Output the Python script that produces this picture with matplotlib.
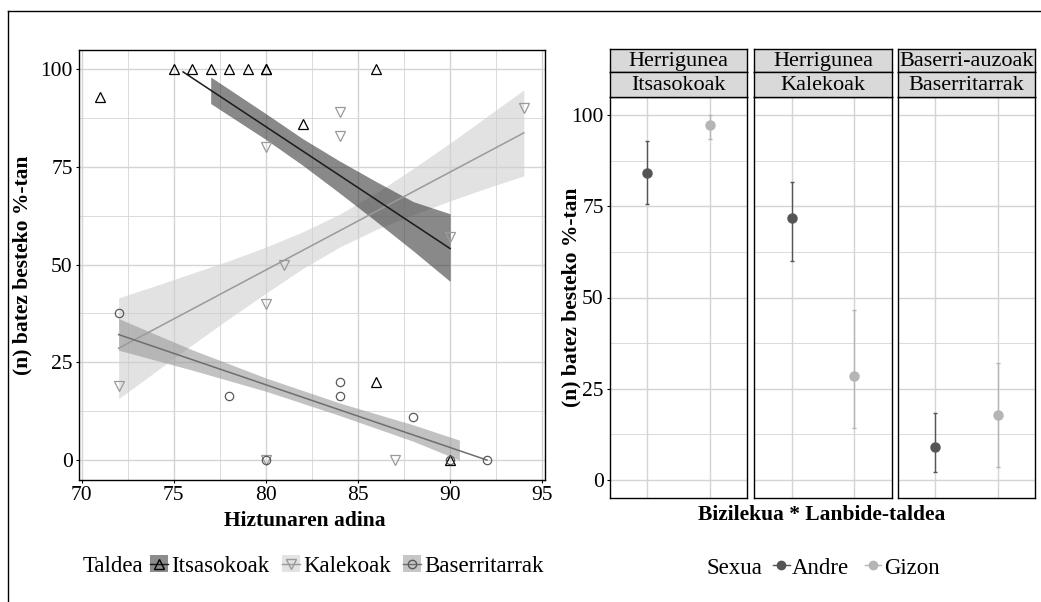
import matplotlib
matplotlib.use('Agg')
import matplotlib.pyplot as plt
from matplotlib.lines import Line2D
from matplotlib.patches import Patch
from matplotlib.legend_handler import HandlerTuple
from matplotlib.ticker import MultipleLocator

plt.rcParams['font.family'] = ['Liberation Serif', 'DejaVu Serif']
plt.rcParams['font.size'] = 15.5

W, H = 1041, 602

# left plot: answers per speaker age, by group
itsas_x = [71, 75, 76, 77, 78, 79, 80, 80, 82, 86, 86, 90]
itsas_y = [93, 100, 100, 100, 100, 100, 100, 100, 86, 100, 20, 0]
kale_x = [72, 80, 80, 80, 81, 84, 84, 87, 90, 94]
kale_y = [19, 80, 40, 0, 50, 89, 83, 0, 57, 90]
baser_x = [72, 78, 80, 84, 84, 88, 90, 92]
baser_y = [37.5, 16.5, 0, 20, 16.5, 11, 0, 0]

# fitted lines
itsas_fit_x = [75.5, 90]
itsas_fit_y = [99.3, 54.1]
kale_fit_x = [72, 94]
kale_fit_y = [28.6, 83.7]
baser_fit_x = [72, 92]
baser_fit_y = [32.1, 0]

# confidence bands
itsas_band_x = [77, 80, 82, 84, 86, 88, 90]
itsas_band_lo = [91.2, 82.0, 75.4, 68.3, 61.0, 53.5, 45.7]
itsas_band_hi = [98.0, 88.6, 82.2, 76.5, 71.2, 66.1, 63.0]
kale_band_x = [72, 74, 76, 78, 80, 82, 84, 86, 88, 90, 92, 94]
kale_band_lo = [15.7, 22.6, 29.5, 36.2, 42.7, 49.0, 54.5, 59.0, 62.8, 66.3, 69.6, 72.7]
kale_band_hi = [41.5, 44.6, 47.8, 51.0, 54.5, 58.4, 62.9, 68.4, 74.6, 81.1, 87.9, 94.7]
baser_band_x = [72, 76, 80, 84, 88, 90.5]
baser_band_lo = [28.1, 23.0, 17.6, 11.4, 4.8, 0.0]
baser_band_hi = [36.2, 28.2, 21.0, 14.6, 9.0, 5.1]

# right plot: mean and interval per residence * occupation, by sex
facet_top = ['Herrigunea', 'Herrigunea', 'Baserri-auzoak']
facet_bottom = ['Itsasokoak', 'Kalekoak', 'Baserritarrak']
sexua = ['Andre', 'Gizon']
andre_mean = [84.2, 71.7, 9.1]
andre_lo = [75.6, 60.0, 2.2]
andre_hi = [93.0, 81.6, 18.4]
gizon_mean = [97.3, 28.5, 17.7]
gizon_lo = [93.6, 14.1, 3.4]
gizon_hi = [100.0, 46.5, 32.0]

GRID = '#d4d4d4'
ylab = '(n) batez besteko %-tan'
LEG_FS = 16.5


def box(x0, y0, x1, y1):
    return [x0 / W, 1 - y1 / H, (x1 - x0) / W, (y1 - y0) / H]


def style_grid(ax):
    ax.grid(which='major', color=GRID, lw=1.0)
    ax.grid(which='minor', color=GRID, lw=0.6)
    ax.set_axisbelow(True)
    for s in ax.spines.values():
        s.set_color('black')
        s.set_linewidth(1.0)
    ax.tick_params(which='major', direction='out', length=2.5, width=0.8,
                   color='black', labelcolor='black', labelsize=15.5, pad=2)
    ax.tick_params(which='minor', length=0)


fig = plt.figure(figsize=(W / 100, H / 100), dpi=100)

# outer frame (top and left edges)
fig.add_artist(Line2D([8 / W, 8 / W], [0, 1 - 11 / H], transform=fig.transFigure, color='black', lw=1.0))
fig.add_artist(Line2D([8 / W, 1], [1 - 11 / H, 1 - 11 / H], transform=fig.transFigure, color='black', lw=1.0))

ax = fig.add_axes(box(79, 50, 545, 480))
style_grid(ax)
ax.fill_between(kale_band_x, kale_band_lo, kale_band_hi, color='#cfcfcf', alpha=0.6, lw=0)
ax.fill_between(baser_band_x, baser_band_lo, baser_band_hi, color='#9a9a9a', alpha=0.6, lw=0)
ax.fill_between(itsas_band_x, itsas_band_lo, itsas_band_hi, color='#3a3a3a', alpha=0.6, lw=0)
ax.plot(kale_fit_x, kale_fit_y, color='#9a9a9a', lw=1.1)
ax.plot(baser_fit_x, baser_fit_y, color='#6e6e6e', lw=1.1)
ax.plot(itsas_fit_x, itsas_fit_y, color='#1a1a1a', lw=1.1)
ax.plot(itsas_x, itsas_y, ls='none', marker='^', ms=7, mfc='none', mec='black', mew=0.9)
ax.plot(kale_x, kale_y, ls='none', marker='v', ms=7, mfc='none', mec='#9a9a9a', mew=0.9)
ax.plot(baser_x, baser_y, ls='none', marker='o', ms=6, mfc='none', mec='#5a5a5a', mew=0.9)
ax.set_xlim(69.85, 95.15)
ax.set_ylim(-5.1, 104.9)
ax.xaxis.set_major_locator(MultipleLocator(5))
ax.xaxis.set_minor_locator(MultipleLocator(2.5))
ax.yaxis.set_major_locator(MultipleLocator(25))
ax.yaxis.set_minor_locator(MultipleLocator(12.5))
ax.set_ylabel(ylab, fontweight='bold')
ax.yaxis.set_label_coords(-0.1, 0.5)
fig.text(305 / W, 1 - 521 / H, 'Hiztunaren adina', ha='center', va='center', fontweight='bold')

# left legend
fig.text(83 / W, 1 - 566 / H, 'Taldea', ha='left', va='center', fontsize=LEG_FS)
h_itsas = (Patch(fc='#8c8c8c', ec='none'),
           Line2D([], [], color='#1a1a1a', lw=1.0, marker='^', ms=7, mfc='none', mec='black'))
h_kale = (Patch(fc='#e3e3e3', ec='none'),
          Line2D([], [], color='#9a9a9a', lw=1.0, marker='v', ms=7, mfc='none', mec='#9a9a9a'))
h_baser = (Patch(fc='#c6c6c6', ec='none'),
           Line2D([], [], color='#6e6e6e', lw=1.0, marker='o', ms=6, mfc='none', mec='#5a5a5a'))
fig.legend([h_itsas, h_kale, h_baser], facet_bottom, loc='center left',
           bbox_to_anchor=(150 / W, 1 - 566 / H), ncol=3, frameon=False, fontsize=LEG_FS,
           handlelength=0.79, handleheight=0.72, handletextpad=0.13, columnspacing=0.55,
           borderpad=0, borderaxespad=0, handler_map={tuple: HandlerTuple(ndivide=1)})

# right facets
panels = [(610, 747), (754, 892), (898, 1035)]
xpos = [1, 2]
for i, (x0, x1) in enumerate(panels):
    pa = fig.add_axes(box(x0, 97, x1, 498))
    style_grid(pa)
    pa.set_xlim(0.4, 2.6)
    pa.set_ylim(-5, 105)
    pa.set_xticks(xpos)
    pa.xaxis.set_minor_locator(MultipleLocator(10))
    pa.yaxis.set_major_locator(MultipleLocator(25))
    pa.yaxis.set_minor_locator(MultipleLocator(12.5))
    pa.tick_params(axis='x', which='both', length=0, labelbottom=False)
    pa.errorbar(xpos[0], andre_mean[i], yerr=[[andre_mean[i] - andre_lo[i]], [andre_hi[i] - andre_mean[i]]],
                fmt='o', color='#555555', ms=6.5, elinewidth=1.0, capsize=1.5, capthick=1.0)
    pa.errorbar(xpos[1], gizon_mean[i], yerr=[[gizon_mean[i] - gizon_lo[i]], [gizon_hi[i] - gizon_mean[i]]],
                fmt='o', color='#b5b5b5', ms=6.5, elinewidth=1.0, capsize=1.5, capthick=1.0)
    if i == 0:
        pa.set_ylabel(ylab, fontweight='bold')
        pa.yaxis.set_label_coords(-0.21, 0.5)
    else:
        pa.tick_params(axis='y', which='both', length=0, labelleft=False)
    for (s0, s1), label in [((49, 72), facet_top[i]), ((72, 97), facet_bottom[i])]:
        st = fig.add_axes(box(x0, s0, x1, s1))
        st.set_facecolor('#d9d9d9')
        st.set_xticks([])
        st.set_yticks([])
        for s in st.spines.values():
            s.set_color('black')
            s.set_linewidth(1.0)
        st.text(0.5, 0.47, label, ha='center', va='center', fontsize=16, transform=st.transAxes)

fig.text(822 / W, 1 - 515 / H, 'Bizilekua * Lanbide-taldea', ha='center', va='center', fontweight='bold')

# right legend
fig.text(707 / W, 1 - 568 / H, 'Sexua', ha='left', va='center', fontsize=LEG_FS)
h_andre = Line2D([], [], color='#555555', lw=1.0, marker='o', ms=6)
h_gizon = Line2D([], [], color='#b5b5b5', lw=1.0, marker='o', ms=6)
fig.legend([h_andre, h_gizon], sexua, loc='center left',
           bbox_to_anchor=(773 / W, 1 - 568 / H), ncol=2, frameon=False, fontsize=LEG_FS,
           handlelength=0.72, handletextpad=0.1, columnspacing=0.7,
           borderpad=0, borderaxespad=0)

fig.savefig('out.png', dpi=100)
